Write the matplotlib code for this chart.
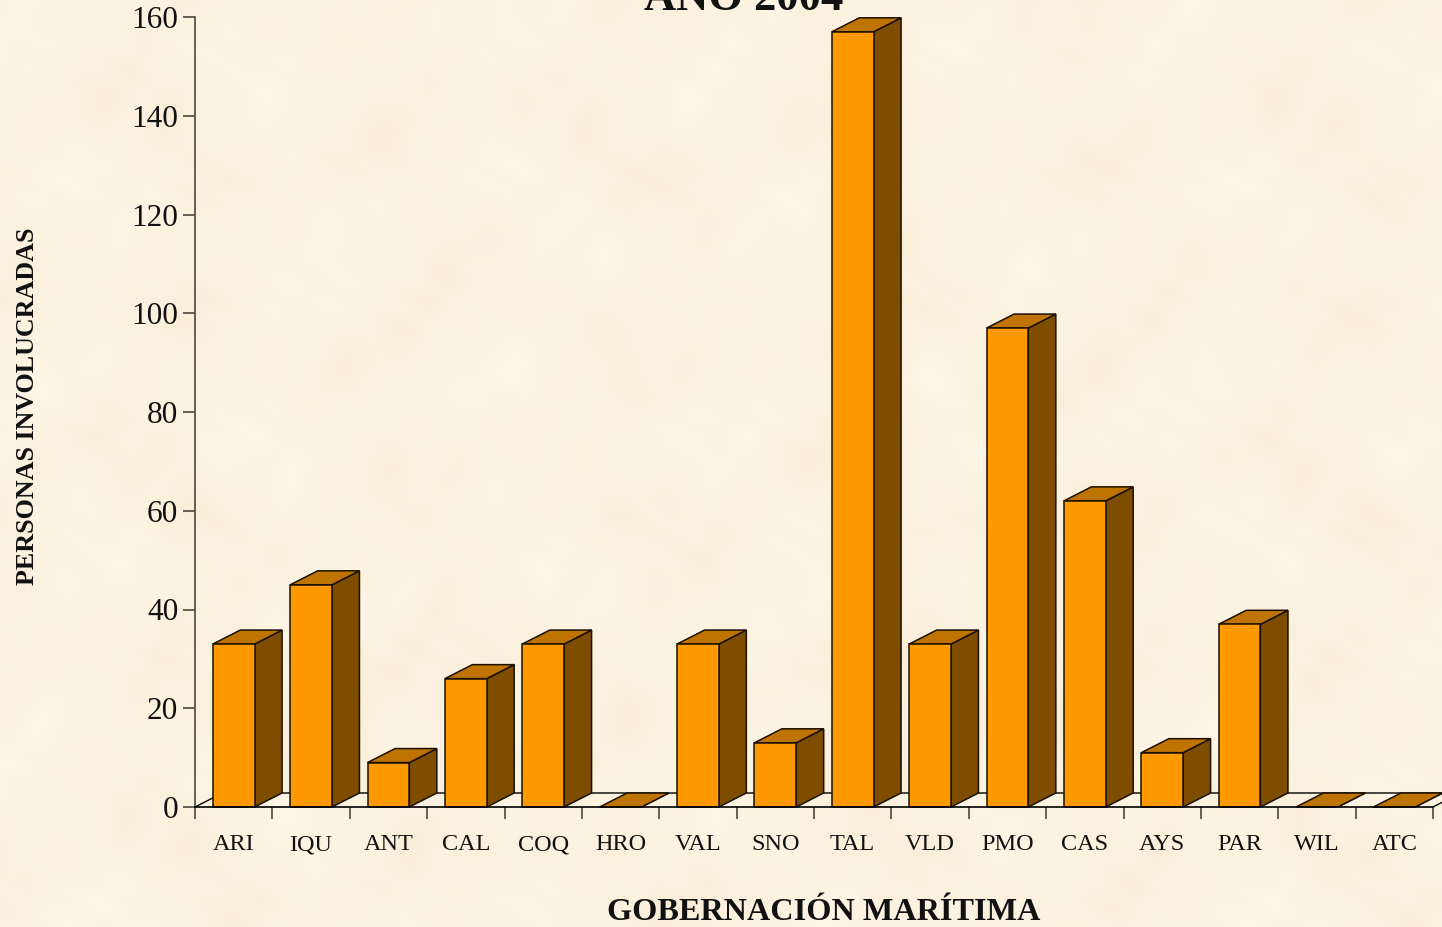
import numpy as np
import matplotlib
matplotlib.use("Agg")
import matplotlib.pyplot as plt
from matplotlib.patches import Polygon

categories = ["ARI", "IQU", "ANT", "CAL", "COQ", "HRO", "VAL", "SNO",
              "TAL", "VLD", "PMO", "CAS", "AYS", "PAR", "WIL", "ATC"]
values = [33, 45, 9, 26, 33, 0, 33, 13, 157, 33, 97, 62, 11, 37, 0, 0]
y_ticks = [0, 20, 40, 60, 80, 100, 120, 140, 160]
title = "AÑO 2004"
x_label = "GOBERNACIÓN MARÍTIMA"
y_label = "PERSONAS INVOLUCRADAS"

W, H = 1442, 927
FRONT, SIDE, TOP = "#FF9900", "#7F4D00", "#BF7300"
AXIS = "#4d4740"
plt.rcParams["font.family"] = ["Liberation Serif", "DejaVu Serif"]

fig = plt.figure(figsize=(W / 100, H / 100), dpi=100)

# parchment background (deterministic mottling)
bg = fig.add_axes([0, 0, 1, 1], zorder=0)
yy, xx = np.mgrid[0:H:2, 0:W:2]
tex = (np.sin(xx / 37 + 1.3 * np.sin(yy / 53)) + np.sin(yy / 29 + 1.7 * np.sin(xx / 61))
       + 0.7 * np.sin((xx + yy) / 17 + np.sin(xx / 23)) + 0.6 * np.sin((xx - yy) / 11 + 2 * np.sin(yy / 19)))
tex = tex / np.abs(tex).max()
base = np.array([252, 242, 224], dtype=float)
amp = np.array([2, 4, 7], dtype=float)
img = np.clip(base + tex[..., None] * amp, 0, 255).astype(np.uint8)
bg.imshow(img, extent=[0, 1, 0, 1], aspect="auto", interpolation="bilinear")
bg.axis("off")

# plot region in pixels
x0, x1, y0, y160 = 195, 1433, 807, 17
ax = fig.add_axes([x0 / W, 1 - y0 / H, (x1 - x0) / W, (y0 - y160) / H], zorder=1)
ax.patch.set_alpha(0)
n = len(categories)
ax.set_xlim(0, n)
ax.set_ylim(0, 160)

dx = 27.5 / ((x1 - x0) / n)        # depth in category units
dy = 14 / ((y0 - y160) / 160)      # depth in value units
bw = 0.54

# floor
ax.plot([0, dx, n + dx], [0, dy, dy], color="black", lw=1, clip_on=False, zorder=1)
ax.plot([n, n + dx], [0, dy], color="black", lw=1, clip_on=False, zorder=1)

for i, v in enumerate(values):
    l, r = i + 0.5 - bw / 2, i + 0.5 + bw / 2
    kw = dict(edgecolor="#1a1000", lw=1.1, clip_on=False, joinstyle="miter", zorder=2)
    ax.add_patch(Polygon([(r, 0), (r + dx, dy), (r + dx, v + dy), (r, v)], facecolor=SIDE, **kw))
    ax.add_patch(Polygon([(l, v), (r, v), (r + dx, v + dy), (l + dx, v + dy)], facecolor=TOP, **kw))
    if v > 0:
        ax.add_patch(Polygon([(l, 0), (r, 0), (r, v), (l, v)], facecolor=FRONT, **kw))

for s in ("top", "right"):
    ax.spines[s].set_visible(False)
ax.spines["left"].set_color(AXIS)
ax.spines["left"].set_linewidth(1.2)
ax.spines["left"].set_bounds(0, 160)
ax.spines["bottom"].set_color("black")
ax.spines["bottom"].set_linewidth(1.2)
ax.spines["bottom"].set_zorder(3)

ax.set_yticks(y_ticks)
ax.set_yticklabels([str(t) for t in y_ticks], fontsize=22.5, color="#111111")
ax.tick_params(axis="y", length=8.5, width=1.2, color=AXIS, pad=3.5)
ax.set_xticks(np.arange(n + 1))
ax.set_xticklabels([""] * (n + 1))
ax.tick_params(axis="x", length=8.5, width=1.2, color=AXIS)
for i, c in enumerate(categories):
    ax.annotate(c, (i + 0.5, 0), xytext=(0, -38), textcoords="offset pixels",
                ha="center", va="center", fontsize=17.5, color="#111111", annotation_clip=False)

fig.text(744 / W, 1 - 10 / H, title, ha="center", va="baseline", fontsize=32, fontweight="bold", color="#111111")
fig.text(824 / W, 1 - 912 / H, x_label, ha="center", va="center", fontsize=23.2, fontweight="bold", color="#111111")
fig.text(28 / W, 1 - 406 / H, y_label, ha="center", va="center", rotation=90, fontsize=18.7, fontweight="bold", color="#111111")

fig.savefig("out.png", dpi=100)
